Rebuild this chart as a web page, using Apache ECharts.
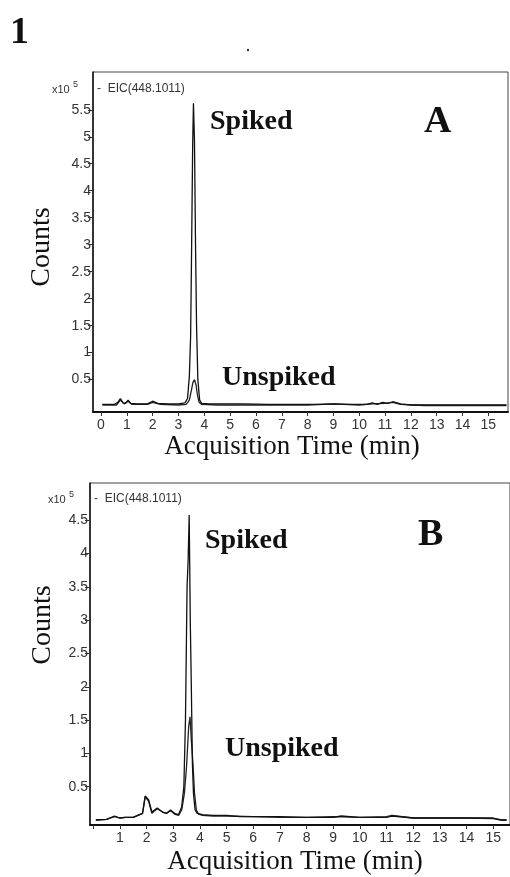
<!DOCTYPE html>
<html><head><meta charset="utf-8">
<script src="https://cdn.jsdelivr.net/npm/echarts@6/dist/echarts.min.js"></script>
<style>html,body{margin:0;padding:0;background:#fff}#c{width:510px;height:877px}</style>
</head><body><div id="c"></div>
<script>
// ---- Data ----
const xTicks = [0,1,2,3,4,5,6,7,8,9,10,11,12,13,14,15];
const xLabelsA = [0,1,2,3,4,5,6,7,8,9,10,11,12,13,14,15];
const xLabelsB = [1,2,3,4,5,6,7,8,9,10,11,12,13,14,15];
const yTicksA = [0.5,1,1.5,2,2.5,3,3.5,4,4.5,5,5.5];
const yTicksB = [0.5,1,1.5,2,2.5,3,3.5,4,4.5];

// Panel A, spiked (x10^5 counts vs min)
const aSpikedT = [0.05,0.5,0.65,0.75,0.85,0.95,1.05,1.15,1.4,1.8,2.0,2.2,2.6,3.0,3.25,3.35,3.42,3.47,3.51,3.55,3.58,3.62,3.66,3.7,3.75,3.82,3.9,4.2,5.0,5.5,6.5,7.5,8.5,9.0,9.5,10.3,10.5,10.7,10.9,11.1,11.3,11.6,12.0,12.5,13.0,14.0,15.0,15.7];
const aSpikedV = [0.04,0.04,0.08,0.15,0.07,0.06,0.12,0.06,0.05,0.05,0.1,0.06,0.05,0.05,0.07,0.15,0.55,1.3,3.0,4.85,5.62,4.9,3.0,1.5,0.5,0.12,0.06,0.05,0.05,0.05,0.04,0.04,0.04,0.05,0.04,0.04,0.07,0.04,0.08,0.06,0.09,0.05,0.03,0.03,0.03,0.03,0.03,0.03];
// Panel A, unspiked
const aUnspikedT = [0.05,0.6,0.75,0.9,1.05,1.2,1.8,2.0,2.3,3.0,3.3,3.42,3.5,3.56,3.62,3.68,3.74,3.8,3.9,4.5,6.0,8.0,9.0,10.0,10.5,11.0,11.3,11.6,12.5,14.0,15.7];
const aUnspikedV = [0.03,0.03,0.12,0.05,0.1,0.04,0.04,0.08,0.04,0.03,0.04,0.12,0.3,0.45,0.5,0.4,0.2,0.08,0.04,0.03,0.03,0.03,0.05,0.03,0.05,0.06,0.08,0.04,0.02,0.02,0.02];
// Panel B, spiked
const bSpikedT = [0.1,0.5,0.8,1.0,1.2,1.5,1.85,1.95,2.0,2.08,2.2,2.4,2.6,2.75,2.9,3.05,3.2,3.32,3.4,3.46,3.52,3.56,3.6,3.64,3.68,3.72,3.76,3.82,3.9,4.1,4.5,5.0,5.5,6.0,7.0,8.0,9.0,9.3,10.0,11.0,11.2,12.0,13.0,14.0,15.0,15.3,15.5];
const bSpikedV = [0.0,0.01,0.06,0.03,0.04,0.04,0.1,0.36,0.38,0.3,0.12,0.18,0.12,0.1,0.15,0.1,0.08,0.2,0.5,1.5,3.5,3.9,4.58,3.0,2.0,0.85,0.4,0.15,0.1,0.08,0.07,0.07,0.05,0.05,0.05,0.04,0.04,0.06,0.04,0.04,0.06,0.03,0.03,0.03,0.03,0.0,0.0];
// Panel B, unspiked
const bUnspikedT = [0.1,0.5,0.8,1.0,1.2,1.5,1.85,1.95,2.0,2.08,2.2,2.4,2.6,2.75,2.9,3.05,3.2,3.32,3.42,3.5,3.58,3.63,3.68,3.74,3.8,3.87,3.95,4.1,4.5,5.0,6.0,7.0,8.0,9.0,10.0,11.0,11.2,12.0,13.0,14.0,15.0,15.3,15.5];
const bUnspikedV = [0.0,0.01,0.05,0.03,0.04,0.04,0.1,0.35,0.37,0.28,0.1,0.17,0.12,0.1,0.14,0.09,0.07,0.15,0.4,0.8,1.4,1.55,1.2,0.85,0.4,0.15,0.09,0.07,0.06,0.06,0.05,0.04,0.04,0.05,0.04,0.05,0.07,0.03,0.03,0.03,0.02,0.0,0.0];

const zip = (t, v) => t.map((x, i) => [x, v[i]]);

const SANS = '"Liberation Sans", Arial, sans-serif';
const SERIF = '"Liberation Serif", "Times New Roman", serif';

function xAxis(grid, min, max, labels) {
  return {
    type: 'value', gridIndex: grid, min: min, max: max,
    axisLine: { show: true, onZero: false, lineStyle: { color: '#111', width: 2 } },
    axisTick: { show: true, length: 4, lineStyle: { color: '#333' }, customValues: xTicks },
    axisLabel: { customValues: labels, color: '#333', fontFamily: SANS, fontSize: 14, margin: 6 },
    splitLine: { show: false }
  };
}
function yAxis(grid, min, max, ticks) {
  return {
    type: 'value', gridIndex: grid, min: min, max: max,
    axisLine: { show: true, onZero: false, lineStyle: { color: '#111', width: 1.5 } },
    axisTick: { show: true, length: 5, lineStyle: { color: '#333' }, customValues: ticks },
    axisLabel: { customValues: ticks, color: '#333', fontFamily: SANS, fontSize: 14, margin: 2 },
    splitLine: { show: false }
  };
}
function line(xi, data, color, w) {
  return { type: 'line', xAxisIndex: xi, yAxisIndex: xi, data: data, showSymbol: false, symbol: 'none',
           lineStyle: { color: color, width: w }, silent: true, animation: false };
}
function txt(x, y, s, font, extra) {
  return Object.assign({ type: 'text', x: x, y: y, style: Object.assign({ text: s, font: font, fill: '#111', textVerticalAlign: 'middle' }, extra || {}) });
}

const chart = echarts.init(document.getElementById('c'), null, { renderer: 'canvas' });
chart.setOption({
  animation: false,
  backgroundColor: '#fff',
  grid: [
    { left: 93, top: 72, width: 415, height: 340, show: true, borderColor: '#444', borderWidth: 1 },
    { left: 90, top: 483, width: 422, height: 342, show: true, borderColor: '#444', borderWidth: 1 }
  ],
  xAxis: [ xAxis(0, -0.31, 15.76, xLabelsA), xAxis(1, -0.12, 15.63, xLabelsB) ],
  yAxis: [ yAxis(0, -0.1, 6.2, yTicksA), yAxis(1, -0.075, 5.06, yTicksB) ],
  series: [
    line(0, zip(aUnspikedT, aUnspikedV), '#222', 1.3),
    line(0, zip(aSpikedT, aSpikedV), '#111', 1.3),
    line(1, zip(bUnspikedT, bUnspikedV), '#222', 1.3),
    line(1, zip(bSpikedT, bSpikedV), '#111', 1.3)
  ],
  graphic: [
    txt(10, 33, '1', 'bold 38px ' + SERIF),
    { type: 'circle', shape: { cx: 248, cy: 50, r: 1.2 }, style: { fill: '#333' } },
    // Panel A
    txt(52, 90, 'x10', '11px ' + SANS, { fill: '#333' }),
    txt(73, 85, '5', '9px ' + SANS, { fill: '#333' }),
    txt(97, 89, '-  EIC(448.1011)', '12px ' + SANS, { fill: '#333' }),
    txt(210, 122, 'Spiked', 'bold 28px ' + SERIF),
    txt(424, 122, 'A', 'bold 38px ' + SERIF),
    txt(222, 378, 'Unspiked', 'bold 28px ' + SERIF),
    { type: 'text', x: 42, y: 247, rotation: Math.PI / 2,
      style: { text: 'Counts', font: '28px ' + SERIF, fill: '#111', textAlign: 'center', textVerticalAlign: 'middle' } },
    txt(292, 447, 'Acquisition Time (min)', '27px ' + SERIF, { textAlign: 'center' }),
    // Panel B
    txt(48, 500, 'x10', '11px ' + SANS, { fill: '#333' }),
    txt(69, 495, '5', '9px ' + SANS, { fill: '#333' }),
    txt(94, 499, '-  EIC(448.1011)', '12px ' + SANS, { fill: '#333' }),
    txt(205, 541, 'Spiked', 'bold 28px ' + SERIF),
    txt(418, 535, 'B', 'bold 38px ' + SERIF),
    txt(225, 749, 'Unspiked', 'bold 28px ' + SERIF),
    { type: 'text', x: 43, y: 625, rotation: Math.PI / 2,
      style: { text: 'Counts', font: '28px ' + SERIF, fill: '#111', textAlign: 'center', textVerticalAlign: 'middle' } },
    txt(295, 862, 'Acquisition Time (min)', '27px ' + SERIF, { textAlign: 'center' })
  ]
});
</script></body></html>
